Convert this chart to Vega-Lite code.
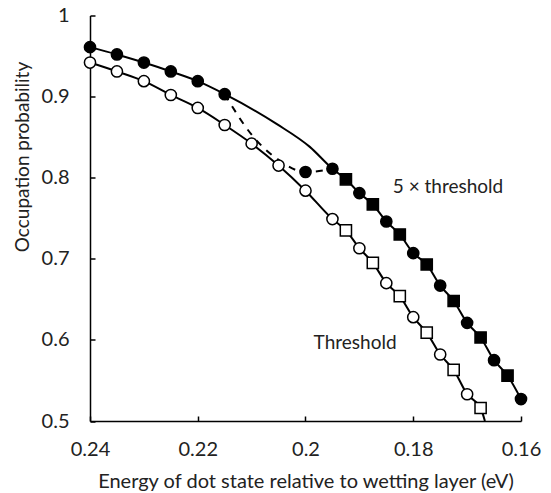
{
  "$schema": "https://vega.github.io/schema/vega-lite/v6.json",
  "autosize": "none",
  "width": 431,
  "height": 405.5,
  "padding": {"left": 90, "top": 15.5, "right": 30, "bottom": 72},
  "background": "white",
  "config": {
    "view": {"stroke": null},
    "font": "Lato",
    "axis": {"grid": false, "domainColor": "#000", "domainWidth": 1.5, "tickColor": "#000", "tickWidth": 1.5, "labelFont": "Lato", "titleFont": "Lato", "labelColor": "#222", "titleColor": "#222", "labelFontSize": 20, "titleFontSize": 20, "titleFontWeight": "normal", "labelFlush": false}
  },
  "datasets": {
    "points": [
      {"s": "5x", "shape": "circle", "x": 0.24, "y": 0.961},
      {"s": "5x", "shape": "circle", "x": 0.235, "y": 0.952},
      {"s": "5x", "shape": "circle", "x": 0.23, "y": 0.942},
      {"s": "5x", "shape": "circle", "x": 0.225, "y": 0.931},
      {"s": "5x", "shape": "circle", "x": 0.22, "y": 0.919},
      {"s": "5x", "shape": "circle", "x": 0.215, "y": 0.903},
      {"s": "5x", "shape": "circle", "x": 0.2, "y": 0.807},
      {"s": "5x", "shape": "circle", "x": 0.195, "y": 0.811},
      {"s": "5x", "shape": "square", "x": 0.1925, "y": 0.798},
      {"s": "5x", "shape": "circle", "x": 0.19, "y": 0.781},
      {"s": "5x", "shape": "square", "x": 0.1875, "y": 0.767},
      {"s": "5x", "shape": "circle", "x": 0.185, "y": 0.746},
      {"s": "5x", "shape": "square", "x": 0.1825, "y": 0.73},
      {"s": "5x", "shape": "circle", "x": 0.18, "y": 0.707},
      {"s": "5x", "shape": "square", "x": 0.1775, "y": 0.693},
      {"s": "5x", "shape": "circle", "x": 0.175, "y": 0.667},
      {"s": "5x", "shape": "square", "x": 0.1725, "y": 0.648},
      {"s": "5x", "shape": "circle", "x": 0.17, "y": 0.621},
      {"s": "5x", "shape": "square", "x": 0.1675, "y": 0.603},
      {"s": "5x", "shape": "circle", "x": 0.165, "y": 0.575},
      {"s": "5x", "shape": "square", "x": 0.1625, "y": 0.556},
      {"s": "5x", "shape": "circle", "x": 0.16, "y": 0.527},
      {"s": "1x", "shape": "circle", "x": 0.24, "y": 0.942},
      {"s": "1x", "shape": "circle", "x": 0.235, "y": 0.931},
      {"s": "1x", "shape": "circle", "x": 0.23, "y": 0.919},
      {"s": "1x", "shape": "circle", "x": 0.225, "y": 0.902},
      {"s": "1x", "shape": "circle", "x": 0.22, "y": 0.886},
      {"s": "1x", "shape": "circle", "x": 0.215, "y": 0.865},
      {"s": "1x", "shape": "circle", "x": 0.21, "y": 0.842},
      {"s": "1x", "shape": "circle", "x": 0.205, "y": 0.815},
      {"s": "1x", "shape": "circle", "x": 0.2, "y": 0.784},
      {"s": "1x", "shape": "circle", "x": 0.195, "y": 0.749},
      {"s": "1x", "shape": "square", "x": 0.1925, "y": 0.735},
      {"s": "1x", "shape": "circle", "x": 0.19, "y": 0.713},
      {"s": "1x", "shape": "square", "x": 0.1875, "y": 0.695},
      {"s": "1x", "shape": "circle", "x": 0.185, "y": 0.67},
      {"s": "1x", "shape": "square", "x": 0.1825, "y": 0.654},
      {"s": "1x", "shape": "circle", "x": 0.18, "y": 0.628},
      {"s": "1x", "shape": "square", "x": 0.1775, "y": 0.609},
      {"s": "1x", "shape": "circle", "x": 0.175, "y": 0.582},
      {"s": "1x", "shape": "square", "x": 0.1725, "y": 0.563},
      {"s": "1x", "shape": "circle", "x": 0.17, "y": 0.533},
      {"s": "1x", "shape": "square", "x": 0.1675, "y": 0.516}
    ],
    "lines": [
      {"line": "upper", "x": 0.24, "y": 0.961},
      {"line": "upper", "x": 0.235, "y": 0.952},
      {"line": "upper", "x": 0.23, "y": 0.942},
      {"line": "upper", "x": 0.225, "y": 0.931},
      {"line": "upper", "x": 0.22, "y": 0.919},
      {"line": "upper", "x": 0.215, "y": 0.903},
      {"line": "upper", "x": 0.2053, "y": 0.866},
      {"line": "upper", "x": 0.1992, "y": 0.838},
      {"line": "upper", "x": 0.195, "y": 0.811},
      {"line": "upper", "x": 0.1925, "y": 0.798},
      {"line": "upper", "x": 0.19, "y": 0.781},
      {"line": "upper", "x": 0.1875, "y": 0.767},
      {"line": "upper", "x": 0.185, "y": 0.746},
      {"line": "upper", "x": 0.1825, "y": 0.73},
      {"line": "upper", "x": 0.18, "y": 0.707},
      {"line": "upper", "x": 0.1775, "y": 0.693},
      {"line": "upper", "x": 0.175, "y": 0.667},
      {"line": "upper", "x": 0.1725, "y": 0.648},
      {"line": "upper", "x": 0.17, "y": 0.621},
      {"line": "upper", "x": 0.1675, "y": 0.603},
      {"line": "upper", "x": 0.165, "y": 0.575},
      {"line": "upper", "x": 0.1625, "y": 0.556},
      {"line": "upper", "x": 0.16, "y": 0.527},
      {"line": "lower", "x": 0.24, "y": 0.942},
      {"line": "lower", "x": 0.235, "y": 0.931},
      {"line": "lower", "x": 0.23, "y": 0.919},
      {"line": "lower", "x": 0.225, "y": 0.902},
      {"line": "lower", "x": 0.22, "y": 0.886},
      {"line": "lower", "x": 0.215, "y": 0.865},
      {"line": "lower", "x": 0.21, "y": 0.842},
      {"line": "lower", "x": 0.205, "y": 0.815},
      {"line": "lower", "x": 0.2, "y": 0.784},
      {"line": "lower", "x": 0.195, "y": 0.749},
      {"line": "lower", "x": 0.1925, "y": 0.735},
      {"line": "lower", "x": 0.19, "y": 0.713},
      {"line": "lower", "x": 0.1875, "y": 0.695},
      {"line": "lower", "x": 0.185, "y": 0.67},
      {"line": "lower", "x": 0.1825, "y": 0.654},
      {"line": "lower", "x": 0.18, "y": 0.628},
      {"line": "lower", "x": 0.1775, "y": 0.609},
      {"line": "lower", "x": 0.175, "y": 0.582},
      {"line": "lower", "x": 0.1725, "y": 0.563},
      {"line": "lower", "x": 0.17, "y": 0.533},
      {"line": "lower", "x": 0.1675, "y": 0.516},
      {"line": "lower", "x": 0.1667, "y": 0.5}
    ],
    "dashed": [
      {"x": 0.215, "y": 0.903},
      {"x": 0.21, "y": 0.853},
      {"x": 0.205, "y": 0.822},
      {"x": 0.2, "y": 0.807},
      {"x": 0.195, "y": 0.811}
    ],
    "labels": [
      {"x": 0.1838, "y": 0.789, "text": "5 × threshold"},
      {"x": 0.1985, "y": 0.5965, "text": "Threshold"}
    ]
  },
  "layer": [
    {
      "data": {"name": "lines"},
      "mark": {"type": "line", "interpolate": "monotone", "color": "#000", "strokeWidth": 2},
      "encoding": {
        "x": {"field": "x", "type": "quantitative", "scale": {"domain": [0.16, 0.24], "reverse": true, "nice": false, "zero": false},
          "axis": {"values": [0.24, 0.22, 0.2, 0.18, 0.16], "format": "~g", "tickSize": -5, "labelPadding": 33, "labelBaseline": "middle", "title": "Energy of dot state relative to wetting layer  (eV)", "titleBaseline": "middle", "titleY": 60}},
        "y": {"field": "y", "type": "quantitative", "scale": {"domain": [0.5, 1], "nice": false, "zero": false},
          "axis": {"values": [0.5, 0.6, 0.7, 0.8, 0.9, 1], "format": "~g", "tickSize": -5, "labelPadding": 26, "title": "Occupation probability", "titleAnchor": null, "titleAngle": -90, "titleAlign": "center", "titleBaseline": "middle", "titleFontSize": 19, "titleX": -68, "titleY": 141}},
        "detail": {"field": "line"}
      }
    },
    {
      "data": {"name": "dashed"},
      "mark": {"type": "line", "interpolate": "monotone", "color": "#000", "strokeWidth": 2, "strokeDash": [7, 7]},
      "encoding": {
        "x": {"field": "x", "type": "quantitative"},
        "y": {"field": "y", "type": "quantitative"}
      }
    },
    {
      "data": {"name": "points"},
      "mark": {"type": "point", "filled": true, "size": 125, "stroke": "#000", "strokeWidth": 1.5, "opacity": 1},
      "encoding": {
        "x": {"field": "x", "type": "quantitative"},
        "y": {"field": "y", "type": "quantitative"},
        "shape": {"field": "shape", "type": "nominal", "scale": {"domain": ["circle", "square"], "range": ["circle", "square"]}, "legend": null},
        "fill": {"field": "s", "type": "nominal", "scale": {"domain": ["5x", "1x"], "range": ["#000", "#fff"]}, "legend": null}
      }
    },
    {
      "data": {"name": "labels"},
      "mark": {"type": "text", "align": "left", "baseline": "middle", "font": "Lato", "fontSize": 19, "color": "#222"},
      "encoding": {
        "x": {"field": "x", "type": "quantitative"},
        "y": {"field": "y", "type": "quantitative"},
        "text": {"field": "text"}
      }
    }
  ]
}
